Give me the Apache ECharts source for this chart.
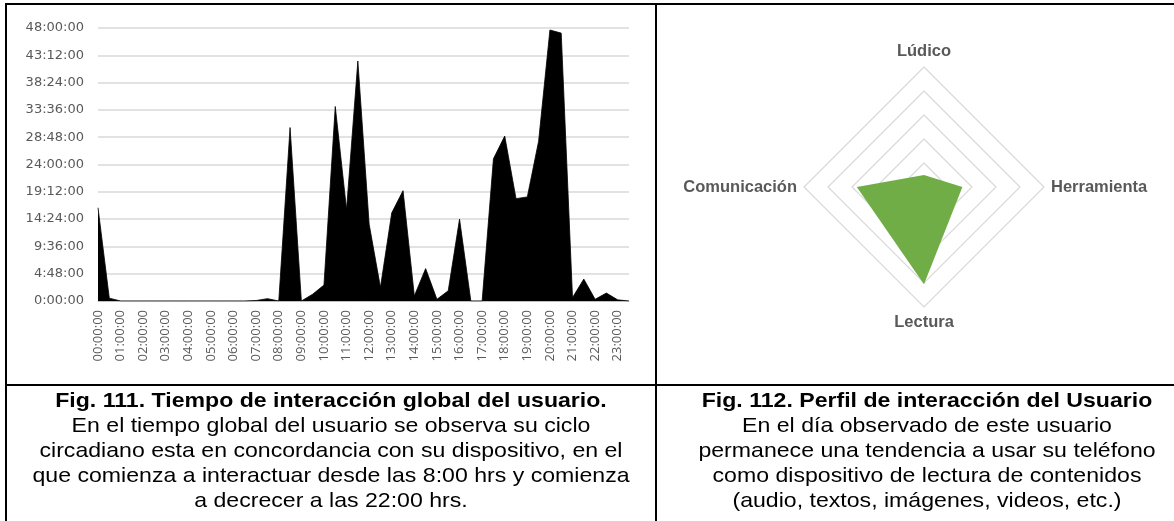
<!DOCTYPE html>
<html>
<head>
<meta charset="utf-8">
<script src="https://cdn.jsdelivr.net/npm/echarts@6/dist/echarts.min.js"></script>
<style>
  html, body { margin: 0; padding: 0; background: #fff; }
  #page { position: relative; width: 1174px; height: 521px; overflow: hidden; }
  #chart { position: absolute; left: 0; top: 0; width: 1174px; height: 521px; }
  .rule { position: absolute; background: #000; }
  .caption {
    position: absolute; top: 387px; text-align: center;
    font-family: "Liberation Sans", Arial, sans-serif; font-size: 21px;
    line-height: 25px; color: #000;
  }
  .caption .inner { transform: scaleX(1.1); transform-origin: 50% 0; }
  .caption b { font-weight: bold; }
</style>
</head>
<body>
<div id="page">
  <div id="chart"></div>
  <div class="rule" style="left:5px;top:3px;width:1169px;height:2px"></div>
  <div class="rule" style="left:5px;top:3px;width:2px;height:518px"></div>
  <div class="rule" style="left:655px;top:3px;width:2px;height:518px"></div>
  <div class="rule" style="left:5px;top:384px;width:1169px;height:2px"></div>
  <div class="caption" style="left:7px;width:648px">
    <div class="inner">
      <b>Fig. 111. Tiempo de interacción global del usuario.</b><br>
      En el tiempo global del usuario se observa su ciclo<br>
      circadiano esta en concordancia con su dispositivo, en el<br>
      que comienza a interactuar desde las 8:00 hrs y comienza<br>
      a decrecer a las 22:00 hrs.
    </div>
  </div>
  <div class="caption" style="left:657px;width:540px">
    <div class="inner">
      <b>Fig. 112. Perfil de interacción del Usuario</b><br>
      En el día observado de este usuario<br>
      permanece una tendencia a usar su teléfono<br>
      como dispositivo de lectura de contenidos<br>
      (audio, textos, imágenes, videos, etc.)
    </div>
  </div>
</div>
<script>
// Half-hour slots of the day
const categories = [
  '00:00:00','00:30:00','01:00:00','01:30:00','02:00:00','02:30:00',
  '03:00:00','03:30:00','04:00:00','04:30:00','05:00:00','05:30:00',
  '06:00:00','06:30:00','07:00:00','07:30:00','08:00:00','08:30:00',
  '09:00:00','09:30:00','10:00:00','10:30:00','11:00:00','11:30:00',
  '12:00:00','12:30:00','13:00:00','13:30:00','14:00:00','14:30:00',
  '15:00:00','15:30:00','16:00:00','16:30:00','17:00:00','17:30:00',
  '18:00:00','18:30:00','19:00:00','19:30:00','20:00:00','20:30:00',
  '21:00:00','21:30:00','22:00:00','22:30:00','23:00:00','23:30:00'
];

// Accumulated interaction time per slot, in minutes
const interactionMinutes = [
  984, 30, 0, 0, 0, 0,
  0, 0, 0, 0, 0, 0,
  0, 0, 5, 25, 0, 1830,
  0, 72, 168, 2052, 966, 2532,
  810, 144, 930, 1164, 54, 342,
  18, 108, 864, 0, 0, 1500,
  1740, 1080, 1098, 1686, 2859, 2826,
  36, 231, 18, 84, 12, 0
];

// Value axis ticks (every 4:48:00 = 288 minutes)
const yTickStep = 288;
const yTickLabels = [
  '0:00:00','4:48:00','9:36:00','14:24:00','19:12:00','24:00:00',
  '28:48:00','33:36:00','38:24:00','43:12:00','48:00:00'
];

// Usage profile
const profileAxes = ['Lúdico', 'Comunicación', 'Lectura', 'Herramienta'];
const profileValues = [10, 56, 81, 32];
const profileMax = 100;

const chart = echarts.init(document.getElementById('chart'));
chart.setOption({
  animation: false,
  grid: { left: 98, top: 28, width: 531, height: 273, containLabel: false },
  xAxis: {
    type: 'category',
    data: categories,
    boundaryGap: false,
    axisLine: { show: true, lineStyle: { color: '#bfbfbf', width: 1 } },
    axisTick: { show: false },
    axisLabel: {
      interval: 1,
      rotate: 90,
      margin: 9,
      color: '#595959',
      fontFamily: 'Open Sans',
      fontSize: 13
    },
    splitLine: { show: false }
  },
  yAxis: {
    type: 'value',
    min: 0,
    max: yTickStep * (yTickLabels.length - 1),
    interval: yTickStep,
    axisLine: { show: false },
    axisTick: { show: false },
    axisLabel: {
      margin: 14,
      color: '#595959',
      fontFamily: 'DejaVu Sans',
      fontSize: 13,
      formatter: v => yTickLabels[Math.round(v / yTickStep)]
    },
    splitLine: { lineStyle: { color: '#d9d9d9', width: 1.5 } }
  },
  radar: {
    center: [924, 187],
    radius: 120,
    shape: 'polygon',
    startAngle: 90,
    splitNumber: 5,
    indicator: profileAxes.map(name => ({ name: name, max: profileMax, min: 0 })),
    axisName: {
      color: '#595959',
      fontFamily: 'Liberation Sans',
      fontWeight: 'bold',
      fontSize: 16.5
    },
    nameGap: 7,
    axisLine: { show: false },
    axisTick: { show: false },
    axisLabel: { show: false },
    splitArea: { show: false },
    splitLine: { lineStyle: { color: '#d9d9d9', width: 1.2 } }
  },
  series: [
    {
      type: 'line',
      data: interactionMinutes,
      symbol: 'none',
      lineStyle: { color: '#000', width: 0.8 },
      areaStyle: { color: '#000', opacity: 1 },
      itemStyle: { color: '#000' }
    },
    {
      type: 'radar',
      symbol: 'none',
      data: [{ value: profileValues }],
      lineStyle: { width: 0 },
      areaStyle: { color: '#70ad47', opacity: 1 },
      itemStyle: { color: '#70ad47' }
    }
  ]
});
</script>
</body>
</html>
